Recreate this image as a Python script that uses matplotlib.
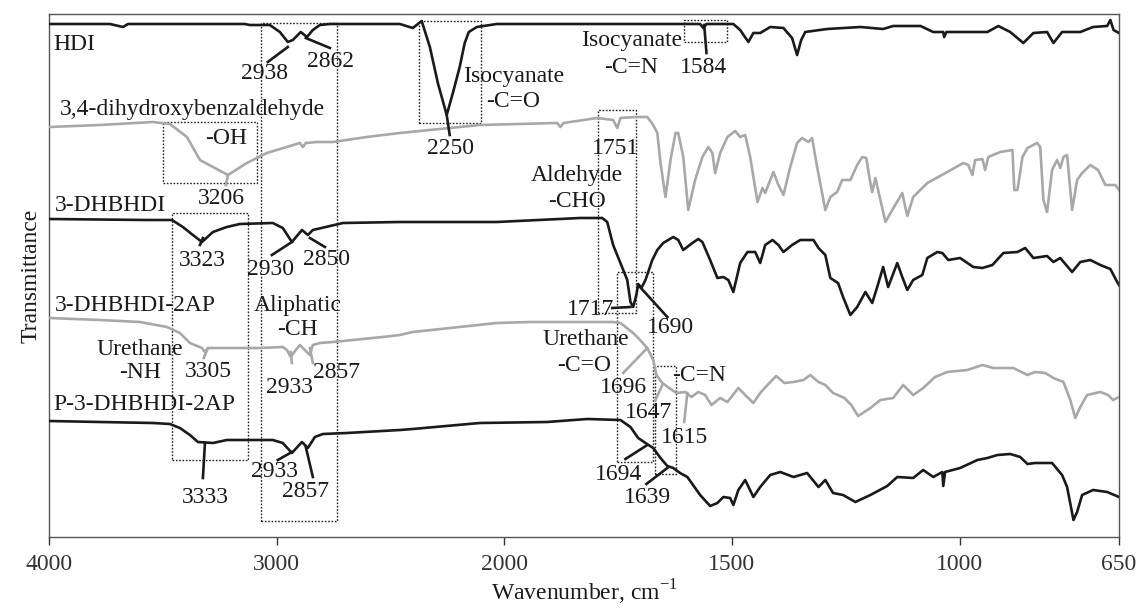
import matplotlib
matplotlib.use('Agg')
import matplotlib.pyplot as plt
import numpy as np

plt.rcParams['font.family'] = ['Liberation Serif', 'DejaVu Serif']
plt.rcParams['mathtext.fontset'] = 'custom'
plt.rcParams['mathtext.rm'] = 'Liberation Serif'

# ---- spectra (wavenumber cm-1, transmittance a.u., offset already applied) ----
hdi_wn = [4000, 3732, 3675, 3653, 3140, 3118, 3030, 2986, 2951, 2929, 2894, 2867, 2841, 2810,
          2766, 2459, 2402, 2363, 2327, 2292, 2253, 2226, 2196, 2174, 2156, 2121, 2033, 1877,
          1570, 1563, 1556, 1497, 1482, 1464, 1453, 1438, 1416, 1387, 1368, 1357, 1348, 1339,
          1291, 1218, 1168, 1146, 1086, 1058, 1036, 1034, 1029, 983, 939, 915, 889, 860, 838,
          808, 794, 775, 735, 707, 676, 669, 662, 650]
hdi_t = [513, 513, 510, 513, 513, 512, 512, 505, 495, 497, 505, 500, 507, 512,
         513, 513, 509, 516, 490, 454, 422, 444, 470, 494, 505, 510, 513, 513,
         513, 509, 513, 513, 507, 495, 504, 504, 510, 509, 499, 482, 497, 505,
         508, 510, 508, 511, 511, 505, 505, 500, 505, 505, 505, 511, 505, 494, 504,
         505, 494, 505, 505, 510, 511, 517, 507, 504]

dhb_wn = [4000, 3776, 3543, 3469, 3394, 3337, 3280, 3214, 3131, 3043, 2898, 2885, 2872, 2823,
          2753, 2604, 2459, 2108, 1884, 1877, 1870, 1796, 1761, 1752, 1745, 1712, 1686, 1673,
          1664, 1657, 1646, 1635, 1624, 1618, 1607, 1596, 1581, 1565, 1552, 1543, 1537, 1526,
          1510, 1493, 1482, 1471, 1460, 1444, 1433, 1427, 1409, 1398, 1387, 1372, 1357, 1346,
          1332, 1324, 1313, 1295, 1284, 1269, 1258, 1240, 1225, 1214, 1205, 1198, 1192, 1185,
          1179, 1163, 1148, 1126, 1115, 1102, 1071, 1027, 992, 981, 972, 966, 950, 944, 937,
          911, 884, 880, 873, 862, 851, 830, 823, 816, 808, 797, 786, 779, 772, 764, 753, 742,
          731, 713, 696, 680, 658, 650]
dhb_t = [410, 412, 415, 413, 400, 377, 370, 362, 374, 384, 394, 390, 394, 395,
         395, 400, 404, 412, 414, 410, 414, 419, 417, 409, 419, 420, 420, 412,
         404, 374, 340, 377, 404, 404, 380, 327, 357, 380, 390, 384, 364, 384,
         400, 406, 400, 402, 380, 335, 349, 344, 365, 352, 342, 370, 394, 399,
         395, 399, 370, 327, 340, 345, 357, 357, 372, 380, 379, 359, 345, 359,
         347, 315, 327, 344, 321, 340, 354, 365, 374, 372, 362, 377, 378, 367, 380,
         385, 387, 347, 347, 380, 389, 394, 390, 337, 325, 367, 377, 369, 380, 382, 327, 357,
         364, 372, 367, 352, 352, 347]

dhbhdi_wn = [4000, 3570, 3460, 3412, 3368, 3328, 3280, 3219, 3162, 3017, 2973, 2933, 2889, 2863,
             2841, 2709, 2459, 2033, 1833, 1785, 1774, 1761, 1745, 1730, 1723, 1717, 1710, 1706,
             1699, 1690, 1675, 1664, 1651, 1629, 1618, 1607, 1587, 1574, 1565, 1548, 1532, 1519,
             1508, 1497, 1482, 1466, 1449, 1438, 1427, 1411, 1398, 1387, 1368, 1350, 1321, 1310,
             1295, 1284, 1267, 1256, 1240, 1225, 1207, 1192, 1181, 1168, 1157, 1137, 1126, 1115,
             1102, 1082, 1071, 1049, 1038, 1025, 999, 970, 950, 928, 904, 873, 856, 838, 808,
             794, 779, 753, 735, 713, 691, 669, 654, 650]
dhbhdi_t = [318, 317, 317, 310, 302, 295, 305, 310, 313, 314, 309, 295, 307, 302,
            307, 314, 315, 315, 319, 319, 315, 292, 274, 257, 235, 230, 242, 253,
            249, 257, 277, 287, 294, 300, 297, 287, 294, 298, 295, 277, 259, 260,
            257, 245, 274, 285, 285, 274, 292, 297, 292, 285, 292, 297, 297, 289,
            282, 259, 254, 240, 222, 230, 245, 234, 250, 270, 250, 274, 260, 247,
            257, 262, 279, 285, 284, 277, 279, 270, 269, 272, 284, 285, 289, 279, 281,
            275, 279, 265, 275, 277, 272, 268, 255, 252]

ap_wn = [4000, 3776, 3601, 3482, 3425, 3381, 3328, 3315, 3302, 3263, 3074, 2973, 2955, 2938,
         2916, 2898, 2876, 2854, 2841, 2810, 2753, 2534, 2459, 2402, 2033, 1943, 1761, 1745,
         1717, 1708, 1686, 1673, 1666, 1653, 1638, 1622, 1603, 1589, 1574, 1559, 1545, 1526,
         1510, 1486, 1471, 1453, 1438, 1422, 1403, 1385, 1365, 1343, 1328, 1310, 1295, 1278,
         1253, 1238, 1223, 1196, 1174, 1146, 1124, 1102, 1080, 1054, 1027, 983, 950, 926, 882,
         851, 834, 812, 794, 772, 757, 746, 735, 720, 691, 674, 663, 650]
ap_t = [219, 217, 215, 210, 204, 194, 189, 185, 189, 189, 189, 190, 187, 180,
        187, 192, 187, 182, 192, 194, 195, 200, 202, 205, 214, 215, 215, 214,
        204, 200, 189, 177, 162, 154, 149, 144, 145, 140, 145, 142, 132, 139,
        135, 149, 142, 134, 144, 152, 161, 154, 155, 157, 162, 155, 152, 144,
        139, 132, 121, 129, 137, 139, 152, 142, 149, 160, 165, 167, 172, 169, 169,
        162, 165, 164, 159, 155, 137, 119, 130, 142, 145, 142, 137, 140]

p_wn = [4000, 3776, 3543, 3469, 3425, 3381, 3346, 3280, 3219, 3017, 2973, 2933, 2889, 2863,
        2832, 2797, 2692, 2459, 2402, 2108, 1906, 1818, 1745, 1723, 1706, 1690, 1673, 1657,
        1642, 1629, 1614, 1598, 1570, 1548, 1532, 1519, 1504, 1497, 1486, 1471, 1453, 1438,
        1416, 1394, 1365, 1335, 1310, 1295, 1278, 1256, 1229, 1196, 1159, 1137, 1102, 1080,
        1058, 1038, 1036, 1032, 999, 961, 939, 917, 889, 867, 851, 834, 797, 775, 764, 750,
        742, 731, 707, 676, 650]
p_t = [116, 115, 114, 113, 109, 102, 95, 94, 97, 97, 94, 84, 95, 89,
       100, 103, 104, 107, 108, 114, 115, 118, 117, 110, 99, 94, 89, 79,
       71, 69, 64, 60, 42, 31, 34, 40, 39, 32, 47, 57, 40, 50,
       62, 65, 60, 64, 50, 57, 44, 42, 35, 42, 51, 60, 59, 67,
       60, 65, 51, 65, 69, 77, 79, 82, 83, 80, 73, 74, 74, 62, 50, 17,
       25, 42, 47, 45, 40]

spectra = [(hdi_wn, hdi_t, '#1a1a1a'), (dhb_wn, dhb_t, '#a8a8a8'),
           (dhbhdi_wn, dhbhdi_t, '#1a1a1a'), (ap_wn, ap_t, '#a8a8a8'),
           (p_wn, p_t, '#1a1a1a')]

# ---- annotations ----
names = ['HDI', '3,4-dihydroxybenzaldehyde', '3-DHBHDI', '3-DHBHDI-2AP', 'P-3-DHBHDI-2AP']
name_pos = [(3982, 492), (3952, 427), (3974, 331), (3974, 231), (3982, 132)]

labels = [('2938', 3052, 463), ('2862', 2762, 475), ('-OH', 3223, 398), ('3206', 3241, 338),
          ('Isocyanate', 1721, 496), ('-C=N', 1721, 469), ('1584', 1563, 469),
          ('Isocyanate', 1980, 460), ('-C=O', 1980, 435), ('2250', 2235, 388),
          ('1751', 1756, 388), ('Aldehyde', 1840, 361), ('-CHO', 1840, 335),
          ('3323', 3328, 276), ('2930', 3025, 267), ('2850', 2780, 277),
          ('Aliphatic', 2907, 231), ('-CH', 2907, 207), ('Urethane', 3600, 187),
          ('-NH', 3600, 164), ('3305', 3302, 165), ('2933', 2942, 149), ('2857', 2736, 164),
          ('3333', 3315, 39), ('2933', 3008, 65), ('2857', 2872, 45),
          ('1717', 1811, 227), ('1690', 1635, 209), ('Urethane', 1822, 197), ('-C=O', 1824, 171),
          ('-C=N', 1572, 161), ('1696', 1739, 149), ('1647', 1684, 124), ('1615', 1605, 99),
          ('1694', 1750, 62), ('1639', 1686, 39)]

leaders = [((2951, 3039), (490, 475), '#1a1a1a'), ((2872, 2766), (499, 489), '#1a1a1a'),
           ((2253, 2240), (422, 402), '#1a1a1a'), ((1561, 1556), (512, 484), '#1a1a1a'),
           ((3214, 3223), (362, 352), '#a8a8a8'), ((3324, 3337), (299, 292), '#1a1a1a'),
           ((2933, 3021), (295, 282), '#1a1a1a'), ((2854, 2788), (299, 290), '#1a1a1a'),
           ((1763, 1723), (229, 230), '#1a1a1a'), ((1706, 1642), (252, 220), '#1a1a1a'),
           ((3306, 3320), (187, 179), '#a8a8a8'), ((2938, 2933), (185, 174), '#a8a8a8'),
           ((2854, 2841), (189, 174), '#a8a8a8'), ((1739, 1686), (164, 189), '#a8a8a8'),
           ((1668, 1653), (137, 152), '#a8a8a8'), ((1598, 1605), (144, 115), '#a8a8a8'),
           ((3315, 3324), (94, 59), '#1a1a1a'), ((2933, 2995), (85, 77), '#1a1a1a'),
           ((2872, 2841), (90, 60), '#1a1a1a'), ((1686, 1734), (92, 78), '#1a1a1a'),
           ((1642, 1688), (69, 53), '#1a1a1a')]

# dotted boxes: (wn_left, wn_right, t_bottom, t_top)
boxes = [(3069, 2736, 16, 514), (2376, 2104, 414, 516), (1605, 1510, 495, 517),
         (3500, 3087, 354, 415), (3460, 3126, 77, 324), (1794, 1710, 224, 427),
         (1752, 1673, 75, 265), (1668, 1622, 63, 171)]

xticks = [4000, 3000, 2000, 1500, 1000, 650]


def fwd(x):
    x = np.asarray(x, dtype=float)
    return np.where(x > 2000, 2000 + (x - 2000) / 2, x)


def inv(u):
    u = np.asarray(u, dtype=float)
    return np.where(u > 2000, 2000 + 2 * (u - 2000), u)


fig = plt.figure(figsize=(11.4, 6.08), dpi=100)
ax = fig.add_axes([0.04298, 0.11678, 0.93860, 0.86020])
ax.set_xscale('function', functions=(fwd, inv))

for b in boxes:
    ax.plot([b[0], b[1], b[1], b[0], b[0]], [b[2], b[2], b[3], b[3], b[2]],
            color='#222222', lw=1.0, linestyle=(0, (1.2, 1.2)), zorder=1)

for wn, t, c in spectra:
    ax.plot(wn, t, color=c, lw=1.9, solid_joinstyle='round', zorder=3)

for xs, ys, c in leaders:
    ax.plot(xs, ys, color=c, lw=1.9, zorder=3)

fs = 17
for n, (x, y) in zip(names, name_pos):
    ax.text(x, y, n, ha='left', va='center', fontsize=fs, color='#1a1a1a', zorder=4)
for s, x, y in labels:
    ax.text(x, y, s, ha='center', va='center', fontsize=fs, color='#1a1a1a', zorder=4)

ax.set_xlim(4000, 650)
ax.set_ylim(0, 523)
ax.set_xticks(xticks)
ax.set_xticklabels([str(v) for v in xticks])
ax.set_yticks([])
ax.tick_params(axis='x', labelsize=fs, length=6, width=1, colors='#333333', pad=6)
for sp in ax.spines.values():
    sp.set_color('#555555')
    sp.set_linewidth(1.0)

ax.set_xlabel(r'Wavenumber, cm$^{\mathregular{-1}}$', fontsize=fs, color='#1a1a1a', labelpad=2)
ax.set_ylabel('Transmittance', fontsize=fs, color='#1a1a1a', labelpad=5)

fig.savefig('out.png', dpi=100)
plt.close(fig)
